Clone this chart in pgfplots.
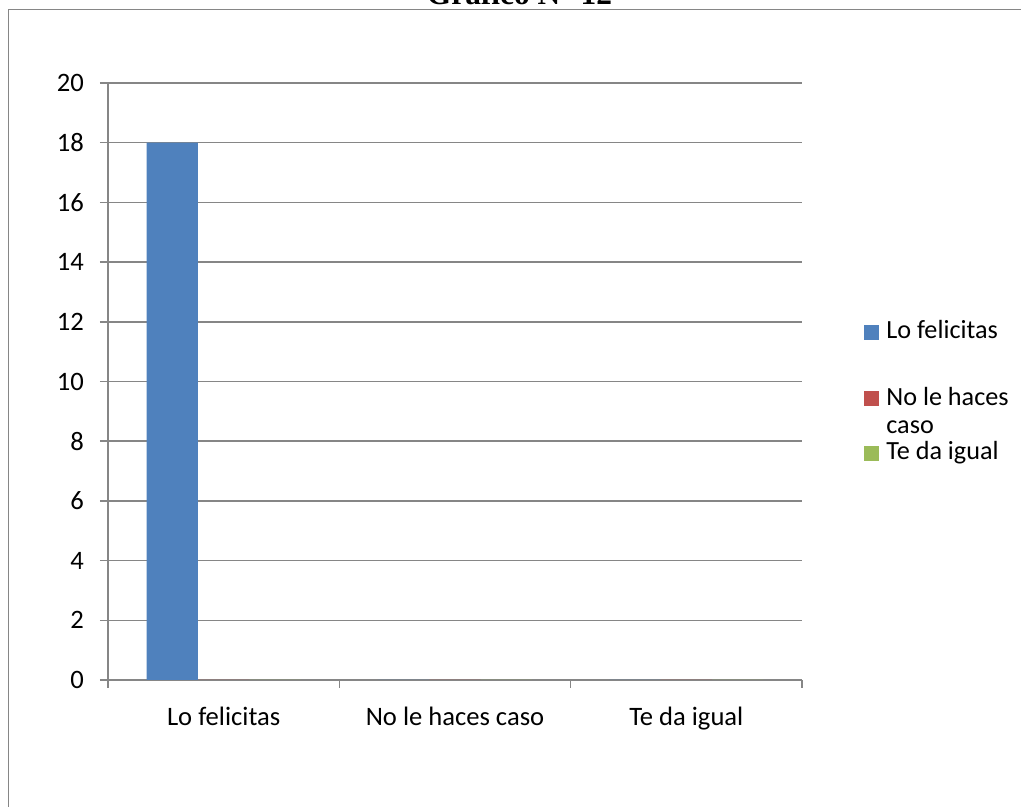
\documentclass[border=0pt]{standalone}
\usepackage{pgfplots}
\pgfplotsset{compat=1.18}
\usepackage{fontspec}
\setmainfont{Carlito}
\newfontfamily\titlefont{Liberation Serif}
\definecolor{sBlue}{HTML}{4F81BD}
\definecolor{sRed}{HTML}{C0504D}
\definecolor{sGreen}{HTML}{9BBB59}
\definecolor{gridgray}{HTML}{868686}
\begin{document}
\begin{tikzpicture}
\useasboundingbox (0,0) rectangle (510.5bp,403.5bp);
\draw[gridgray, line width=0.75bp] (4.15bp,-20bp) -- (4.15bp,398.65bp) -- (530bp,398.65bp);
\node[anchor=base, font=\titlefont\bfseries\fontsize{15.7bp}{18bp}\selectfont, inner sep=0pt] at (259.75bp,401bp) {Gráfico N° 12};
\begin{axis}[
  at={(54bp,63.5bp)}, anchor=south west,
  scale only axis, width=347bp, height=298.5bp,
  xmin=-0.5, xmax=2.5, ymin=0, ymax=20,
  ytick={0,2,...,20},
  xtick={0,1,2},
  xticklabels={Lo felicitas, No le haces caso, Te da igual},
  minor xtick={-0.5,0.5,1.5,2.5},
  major x tick style={draw=none},
  tick align=outside,
  major tick length=4bp, minor tick length=4bp,
  tick style={gridgray, line width=0.75bp},
  axis x line*=bottom, axis y line*=left,
  axis line style={gridgray, line width=0.75bp, -},
  ymajorgrids, major grid style={gridgray, line width=0.75bp},
  ticklabel style={font=\fontsize{13.3bp}{16bp}\selectfont},
  /pgf/number format/assume math mode=true,
  xticklabel style={yshift=-6bp},
  yticklabel style={xshift=-4.5bp},
  ybar, bar width=0.222,
  legend style={at={(1.0893,0.603)}, anchor=north west, draw=none, fill=none,
    inner xsep=0pt, inner ysep=0pt, row sep=0pt,
    font=\fontsize{13.1bp}{14bp}\selectfont,
    nodes={inner sep=0pt, anchor=base west, text depth={}, text height={}},
    column sep=3.5bp},
  legend cell align=left,
  legend image code/.code={\fill[#1] (0bp,-0.5bp) rectangle (7.5bp,7bp);},
]
\addplot[fill=sBlue, draw=none, bar shift=-0.222] coordinates {(0,18) (1,0) (2,0)};
\addlegendentry{Lo felicitas\rule[-23.5bp]{0pt}{23.5bp}}
\addplot[fill=sRed, draw=none, bar shift=0] coordinates {(0,0) (1,0) (2,0)};
\addlegendentry{\begin{tabular}[t]{@{}l@{}}No le haces\\[0bp]caso\end{tabular}}
\addplot[fill=sGreen, draw=none, bar shift=0.222] coordinates {(0,0) (1,0) (2,0)};
\addlegendentry{Te da igual}
\end{axis}
\end{tikzpicture}
\end{document}
